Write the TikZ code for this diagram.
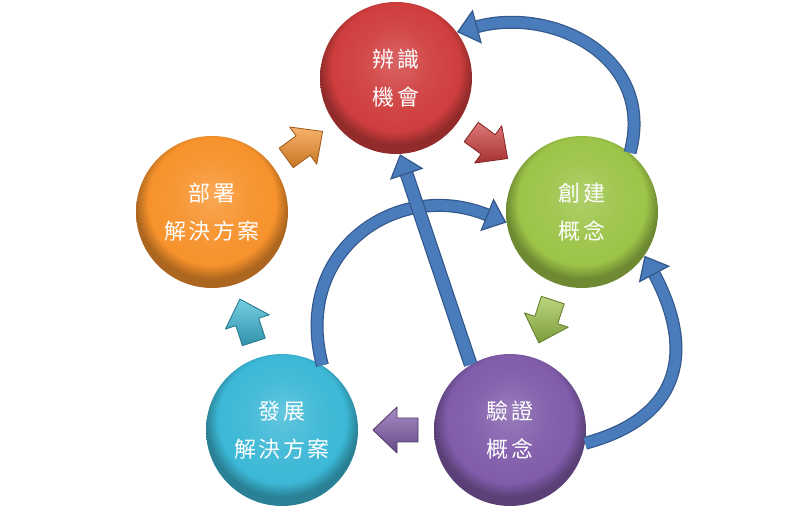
\documentclass[tikz,border=0pt]{standalone}
\usepackage{fontspec}
\newfontfamily\cjk[LetterSpace=10]{Noto Sans CJK TC}
\usetikzlibrary{arrows.meta,calc}

\definecolor{redball}{RGB}{208,62,62}
\definecolor{greenball}{RGB}{156,196,72}
\definecolor{purpleball}{RGB}{128,92,170}
\definecolor{cyanball}{RGB}{60,184,214}
\definecolor{orangeball}{RGB}{247,146,44}
\definecolor{loopfill}{RGB}{74,124,188}
\definecolor{loopline}{RGB}{52,88,140}

\colorlet{ballcol}{redball}
\pgfdeclareradialshading[ballcol]{ballrim}{\pgfpoint{0bp}{6bp}}{%
  color(0bp)=(ballcol!80!white); color(12bp)=(ballcol!95!white);
  color(21bp)=(ballcol); color(25bp)=(ballcol!70!black);
  color(50bp)=(ballcol!70!black)}

\tikzset{
  ball/.style={circle, minimum size=3.04cm, inner sep=0pt, text=white,
    align=center, font=\cjk\fontsize{12.5}{21.6}\selectfont,
    /utils/exec={\colorlet{ballcol}{#1}}, shade, shading=ballrim},
  flow/.style={top color=#1!70!white, bottom color=#1!80!black,
    draw=#1!65!black, line width=0.5pt, line join=round},
  stepmark/.pic={
    \path[flow=#1] (-22,-12) -- (-1,-12) -- (-1,-23) -- (23,0)
      -- (-1,23) -- (-1,12) -- (-22,12) -- cycle;
  },
  loop/.style={draw=loopline, line width=0.7pt, double=loopfill,
    double distance=#1,
    -{Triangle[width=20pt, length=12pt, fill=loopfill, line width=0.7pt]}},
  loop/.default=6pt
}

\begin{document}
\begin{tikzpicture}[x=0.02cm, y=0.02cm]
\useasboundingbox (0,0) rectangle (808,514);

\node[ball=redball]    (identify) at (396,436) {辨識\\機會};
\node[ball=greenball]  (create)   at (582,302) {創建\\概念};
\node[ball=purpleball] (validate) at (510,84)  {驗證\\概念};
\node[ball=cyanball]   (develop)  at (282,84)  {發展\\解決方案};
\node[ball=orangeball] (deploy)   at (212,302) {部署\\解決方案};

\pic[rotate=36]   at ($(deploy)!0.5!(identify)$)  {stepmark=orangeball};
\pic[rotate=-36]  at ($(identify)!0.5!(create)$)  {stepmark=redball};
\pic[rotate=-108] at ($(create)!0.5!(validate)$)  {stepmark=greenball};
\pic[rotate=180]  at ($(validate)!0.5!(develop)$) {stepmark=purpleball};
\pic[rotate=108]  at ($(develop)!0.5!(deploy)$)   {stepmark=cyanball};

\draw[loop] (develop.58) to[out=105, in=158, looseness=1.3] (create.188);
\draw[loop=6.5pt] (validate.121) -- (identify.-87);
\draw[loop] (create.51) to[out=75, in=15, looseness=1.2] (identify.37);
\draw[loop] (validate.-10) to[out=15, in=-62, looseness=1.35] (create.-35);
\end{tikzpicture}
\end{document}
